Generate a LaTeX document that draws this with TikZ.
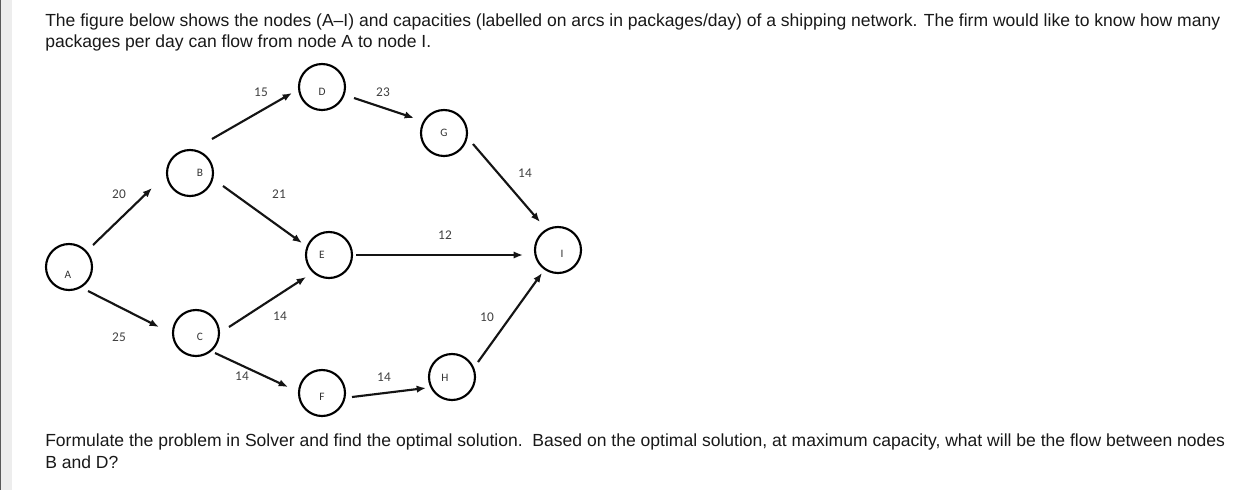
\documentclass[tikz,border=0pt]{standalone}
\usepackage{fontspec}
\setmainfont{Liberation Sans}
\newfontfamily\carlito{Carlito}
\usetikzlibrary{arrows.meta}
\begin{document}
\begin{tikzpicture}[x=0.75pt,y=-0.75pt,
  nd/.style={circle,draw=black,line width=1.6pt,minimum size=34.5pt,inner sep=0pt},
  lab/.style={font=\carlito\fontsize{8.5}{10}\selectfont,text=black!80,inner sep=0pt},
  num/.style={font=\carlito\fontsize{10}{12}\selectfont,text=black!75,inner sep=0pt},
  arr/.style={-{Latex[length=7pt,width=5.5pt]},line width=1.6pt,draw=black!92},
  txt/.style={font=\fontsize{13.15}{15}\selectfont,anchor=base west,inner sep=0pt,text=black!90}]
\useasboundingbox (0,0) rectangle (1247,490);
\fill[white] (0,0) rectangle (1247,490);
\fill[black!7] (0,0) rectangle (12,490);
\fill[black!65] (0,0) rectangle (1.5,490);

% text
\node[txt] (t1) at (45,26) {The figure below shows the nodes (A–I) and capacities (labelled on arcs in packages/day) of a shipping network. The firm would like to know how many};
\node[txt] (t2) at (45,47) {packages per day can flow from node A to node I.};
\node[txt] (t3) at (45,446) {Formulate the problem in Solver and find the optimal solution.\ \ Based on the optimal solution, at maximum capacity, what will be the flow between nodes};
\node[txt] (t4) at (45,468) {B and D?};

% nodes
\node[nd,label={[lab,shift={(-1,8)}]center:A}] (A) at (69,267) {};
\node[nd,label={[lab,shift={(10,0)}]center:B}] (B) at (190,173) {};
\node[nd,label={[lab,shift={(4,4)}]center:C}] (C) at (196,333) {};
\node[nd,label={[lab,shift={(0,5)}]center:D}] (D) at (322,87) {};
\node[nd,label={[lab,shift={(-7,0)}]center:E}] (E) at (329,255) {};
\node[nd,label={[lab,shift={(0,4)}]center:F}] (F) at (322,393) {};
\node[nd,label={[lab]center:G}] (G) at (444,133) {};
\node[nd,label={[lab,shift={(-7,1)}]center:H}] (H) at (452,377) {};
\node[nd,label={[lab,shift={(4,4)}]center:I}] (I) at (558,250) {};

% arcs
\draw[arr] ([shift={(24,-22)}]A.center) -- ([shift={(-38,15)}]B.center);
\draw[arr] ([shift={(19,24)}]A.center) -- ([shift={(-37,-6)}]C.center);
\draw[arr] ([shift={(22,-34)}]B.center) -- ([shift={(-30,6)}]D.center);
\draw[arr] ([shift={(33,13)}]B.center) -- ([shift={(-27,-12)}]E.center);
\draw[arr] ([shift={(33,-6)}]C.center) -- ([shift={(-23,22)}]E.center);
\draw[arr] ([shift={(19,20)}]C.center) -- ([shift={(-34,-6)}]F.center);
\draw[arr] ([shift={(32,11)}]D.center) -- ([shift={(-30,-15)}]G.center);
\draw[arr] ([shift={(29,11)}]G.center) -- ([shift={(-18,-28)}]I.center);
\draw[arr] ([shift={(27,0)}]E.center) -- ([shift={(-35,5)}]I.center);
\draw[arr] ([shift={(30,4)}]F.center) -- ([shift={(-26,11)}]H.center);
\draw[arr] ([shift={(26,-15)}]H.center) -- ([shift={(-16,23)}]I.center);

% capacities
\node[num] (cAB) at (119,194) {20};
\node[num] (cAC) at (119,337) {25};
\node[num] (cBD) at (261,92) {15};
\node[num] (cBE) at (279,194) {21};
\node[num] (cCE) at (280,316) {14};
\node[num] (cCF) at (242,376) {14};
\node[num] (cDG) at (383,92) {23};
\node[num] (cGI) at (525,173) {14};
\node[num] (cEI) at (445,235) {12};
\node[num] (cFH) at (384,377) {14};
\node[num] (cHI) at (487,317) {10};
\end{tikzpicture}
\end{document}
